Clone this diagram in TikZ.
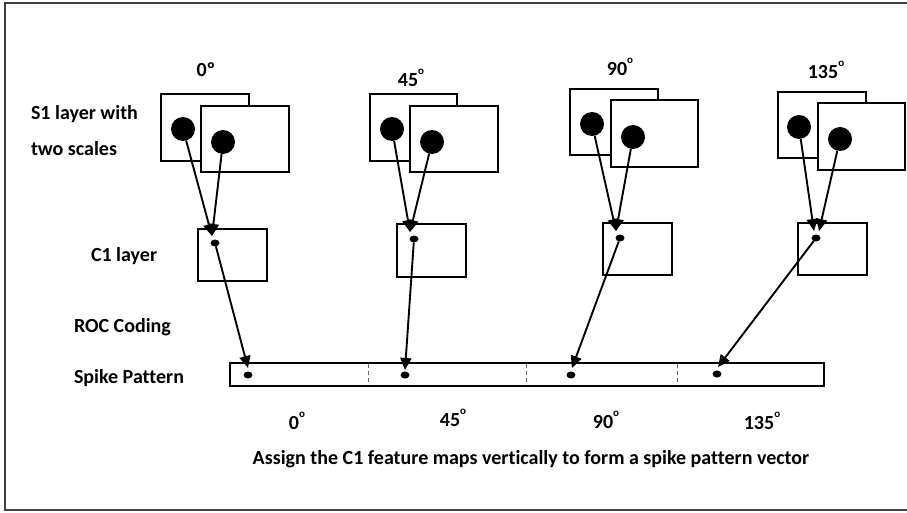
\documentclass[tikz,border=0pt]{standalone}
\usepackage{fontspec}
\setmainfont{Carlito}[Ligatures=NoCommon]
\usetikzlibrary{arrows.meta,shapes.geometric}
\newcommand{\degsup}{\raisebox{0.62em}{\fontsize{11}{11}\selectfont o}}
\begin{document}
\begin{tikzpicture}[x=1pt,y=-1pt,
  every node/.style={font=\fontsize{20}{24}\selectfont\bfseries, inner sep=0pt, outer sep=0pt},
  mapbox/.style={draw=black, line width=2.2pt, fill=white, inner sep=0pt, outer sep=0pt},
  bigdot/.style={circle, fill=black, minimum size=24pt, inner sep=0pt},
  smalldot/.style={ellipse, fill=black, minimum width=9pt, minimum height=7pt, inner sep=0pt},
  arr/.style={line width=1.9pt, -{Triangle[length=12pt,width=11pt]}},
  lbl/.style={anchor=west},
  sep/.style={gray!80!black, line width=0.9pt, dash pattern=on 4pt off 3pt}
]
\useasboundingbox (0,0) rectangle (907,513);
% frame
\draw[line width=1.6pt, black!75] (907,3) -- (5,3) -- (5,510) -- (907,510);

% left labels
\node[lbl] (l1) at (31,114) {S1 layer with};
\node[lbl] (l2) at (31,149) {two scales};
\node[lbl] (l3) at (91,256) {C1 layer};
\node[lbl] (l4) at (74,327) {ROC Coding};
\node[lbl] (l5) at (74,378) {Spike Pattern};

% top angle labels
\node (a0) at (206,70) {0º};
\node (a45) at (411,78) {45\degsup};
\node (a90) at (620,67) {90\degsup};
\node (a135) at (826,70) {135\degsup};

% ---- group 0
\node[mapbox, minimum width=88pt, minimum height=67pt] (b0a) at (205,127.5) {};
\node[mapbox, minimum width=88pt, minimum height=66pt] (b0b) at (245,139) {};
\node[bigdot] (c0a) at (183,129) {};
\node[bigdot] (c0b) at (223,142) {};
\node[mapbox, minimum width=69pt, minimum height=52pt] (k0) at (232.5,255) {};
\node[smalldot] (d0) at (215,243) {};
\coordinate (t0) at (212,236);

% ---- group 45
\node[mapbox, minimum width=87pt, minimum height=67pt] (b1a) at (413.5,127.5) {};
\node[mapbox, minimum width=88pt, minimum height=66pt] (b1b) at (454,139) {};
\node[bigdot] (c1a) at (392,129) {};
\node[bigdot] (c1b) at (432,142) {};
\node[mapbox, minimum width=69pt, minimum height=53pt] (k1) at (431.5,250.5) {};
\node[smalldot] (d1) at (414,239) {};
\coordinate (t1) at (410,232);

% ---- group 90
\node[mapbox, minimum width=88pt, minimum height=66pt] (b2a) at (614,122) {};
\node[mapbox, minimum width=87pt, minimum height=67pt] (b2b) at (654.5,133.5) {};
\node[bigdot] (c2a) at (592,124) {};
\node[bigdot] (c2b) at (633,137) {};
\node[mapbox, minimum width=69pt, minimum height=52pt] (k2) at (637.5,249) {};
\node[smalldot] (d2) at (620,238) {};
\coordinate (t2) at (616,231);

% ---- group 135
\node[mapbox, minimum width=88pt, minimum height=66pt] (b3a) at (822,125) {};
\node[mapbox, minimum width=87pt, minimum height=67pt] (b3b) at (861.5,136.5) {};
\node[bigdot] (c3a) at (799,127) {};
\node[bigdot] (c3b) at (840,139) {};
\node[mapbox, minimum width=69pt, minimum height=52pt] (k3) at (832.5,249) {};
\node[smalldot] (d3) at (816,238) {};
\coordinate (t3a) at (814,231);
\coordinate (t3b) at (819,231);

% spike pattern bar
\node[mapbox, minimum width=594pt, minimum height=23pt] (bar) at (527,374.5) {};
\draw[sep] (368,364) -- (368,385);
\draw[sep] (526,364) -- (526,385);
\draw[sep] (677,364) -- (677,385);
\node[smalldot] (s0) at (248,375) {};
\node[smalldot] (s1) at (405,375) {};
\node[smalldot] (s2) at (571,375) {};
\node[smalldot] (s3) at (717,374) {};
\coordinate (u0) at (248,368);
\coordinate (u1) at (405,370);
\coordinate (u2) at (572,368);
\coordinate (u3) at (718,367);

% arrows S1 -> C1
\draw[arr] (c0a) -- (t0);
\draw[arr] (c0b) -- (t0);
\draw[arr] (c1a) -- (t1);
\draw[arr] (c1b) -- (t1);
\draw[arr] (c2a) -- (t2);
\draw[arr] (c2b) -- (t2);
\draw[arr] (c3a) -- (t3a);
\draw[arr] (c3b) -- (t3b);

% arrows C1 -> spike pattern
\draw[arr] (d0) -- (u0);
\draw[arr] (d1) -- (u1);
\draw[arr] (d2) -- (u2);
\draw[arr] (d3) -- (u3);

% bottom labels
\node (e0) at (297,421) {0\degsup};
\node (e45) at (453,418) {45\degsup};
\node (e90) at (606,420) {90\degsup};
\node (e135) at (762,421) {135\degsup};
\node (cap) at (531,459) {Assign the C1 feature maps vertically to form a spike pattern vector};
\end{tikzpicture}
\end{document}
